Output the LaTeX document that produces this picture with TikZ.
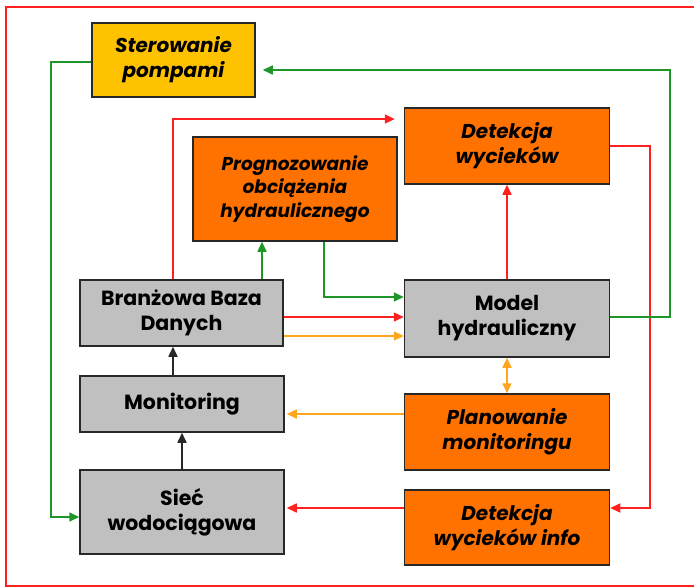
\documentclass[tikz,border=0pt]{standalone}
\usepackage{fontspec}
\setmainfont{Poppins}
\usetikzlibrary{arrows.meta}
\definecolor{boxorange}{RGB}{255,114,0}
\definecolor{boxyellow}{RGB}{255,194,0}
\definecolor{boxgray}{RGB}{192,192,192}
\definecolor{lnred}{RGB}{255,32,32}
\definecolor{lngreen}{RGB}{30,150,40}
\definecolor{lnorange}{RGB}{255,165,30}
\definecolor{edge}{RGB}{40,40,40}
\tikzset{
  blk/.style={draw=edge, line width=1.5pt, align=center, inner sep=2pt,
    text=black},
  graybox/.style={blk, fill=boxgray, font=\fontsize{20.5}{25}\selectfont\bfseries},
  orangebox/.style={blk, fill=boxorange, font=\fontsize{20}{25}\selectfont\bfseries\itshape},
  yellowbox/.style={blk, fill=boxyellow, font=\fontsize{20}{25}\selectfont\bfseries\itshape},
  tip/.style={-{Triangle[length=10pt,width=9pt]}},
  redln/.style={tip, draw=lnred, line width=1.6pt},
  greenln/.style={tip, draw=lngreen, line width=1.6pt},
  orangeln/.style={tip, draw=lnorange, line width=1.6pt},
  blackln/.style={tip, draw=edge, line width=1.6pt},
}
\begin{document}
\begin{tikzpicture}[x=1pt, y=-1pt]
\useasboundingbox (0,0) rectangle (694,587);
% frame
\draw[lnred, line width=2.5pt] (694,7) -- (6,7) -- (6,586) -- (694,586);

% blocks
\node[yellowbox, minimum width=163pt, minimum height=74pt] (ster) at (173.5,60) {Sterowanie\\pompami};
\node[orangebox, minimum width=205pt, minimum height=76pt] (det) at (507,146) {Detekcja\\wycieków};
\node[orangebox, minimum width=204pt, minimum height=104pt, font=\fontsize{18.5}{23.5}\selectfont\bfseries\itshape] (prog) at (295,189) {Prognozowanie\\obciążenia\\hydraulicznego};
\node[graybox, minimum width=203pt, minimum height=66pt] (baza) at (181.5,313) {Branżowa Baza\\Danych};
\node[graybox, minimum width=205pt, minimum height=77pt] (model) at (507,318.5) {Model\\hydrauliczny};
\node[graybox, minimum width=204pt, minimum height=56pt] (mon) at (182,404) {Monitoring};
\node[orangebox, minimum width=205pt, minimum height=76pt] (plan) at (507,432) {Planowanie\\monitoringu};
\node[graybox, minimum width=204pt, minimum height=84pt] (siec) at (182,512) {Sieć\\wodociągowa};
\node[orangebox, minimum width=205pt, minimum height=75pt] (info) at (507,527.5) {Detekcja\\wycieków info};

% route corners
\coordinate (c1) at (173,119);
\coordinate (c2) at (324,297);
\coordinate (c3) at (650,146);
\coordinate (c4) at (650,508);
\coordinate (c5) at (670,317);
\coordinate (c6) at (670,70);
\coordinate (c7) at (51,62);
\coordinate (c8) at (51,517);

% connectors
\draw[redln, shorten >=9pt] (baza.north -| c1) -- (c1) -- (c1 -| det.west);
\draw[greenln] (baza.north -| 262,0) -- (prog.south -| 262,0);
\draw[greenln] (prog.south -| c2) -- (c2) -- (c2 -| model.west);
\draw[redln] (baza.east |- 0,317) -- (model.west |- 0,317);
\draw[orangeln] (baza.east |- 0,336) -- (model.west |- 0,336);
\draw[redln] (model.north) -- (det.south);
\draw[orangeln, {Triangle[length=10pt,width=9pt]}-{Triangle[length=10pt,width=9pt]}] (model.south) -- (plan.north);
\draw[orangeln, shorten >=2pt] (plan.west |- 0,414) -- (mon.east |- 0,414);
\draw[blackln] (mon.north -| c1) -- (baza.south -| c1);
\draw[blackln] (siec.north) -- (mon.south);
\draw[redln, shorten >=2pt] (info.west |- 0,508) -- (siec.east |- 0,508);
\draw[redln] (det.east |- c3) -- (c3) -- (c4) -- (info.east |- c4);
\draw[greenln, shorten >=7pt] (model.east |- c5) -- (c5) -- (c6) -- (ster.east |- c6);
\draw[greenln] (ster.west |- c7) -- (c7) -- (c8) -- (siec.west |- c8);
\end{tikzpicture}
\end{document}
